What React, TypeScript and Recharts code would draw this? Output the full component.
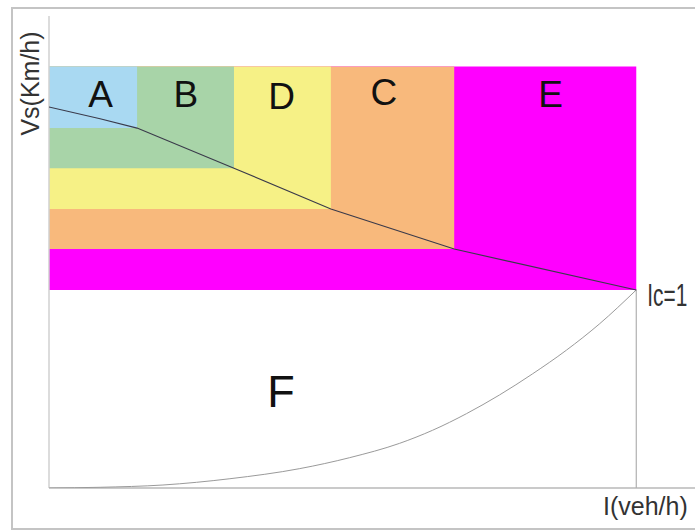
import {
  ComposedChart,
  Line,
  XAxis,
  YAxis,
  ReferenceArea,
  ReferenceLine,
  ReferenceDot,
} from 'recharts';

// level-of-service bands, drawn from the widest (E) to the smallest (A)
const bandNames = ['A', 'B', 'D', 'C', 'E'];
const bandRight = [0.15, 0.315, 0.48, 0.69, 1];
const bandBottom = [85.4, 75.9, 66.2, 56.7, 47.0];
const bandColors = ['#a9d9f2', '#a8d4a8', '#f6f186', '#f8b97c', '#ff00ff'];
const topSpeed = 100;

// speed-flow curve (upper)
const speedFlow = [0, 0.087, 0.15, 0.315, 0.48, 0.69, 1];
const speedValues = [90.4, 87.6, 85.4, 75.9, 66.2, 56.7, 47.0];

// lower curve
const lowerFlow = [0, 0.087, 0.194, 0.308, 0.427, 0.512, 0.597, 0.653, 0.711, 0.767, 0.823, 0.881, 0.937, 1];
const lowerValues = [0, 0.17, 0.71, 2.2, 4.6, 7.2, 10.6, 13.69, 17.65, 22.07, 27.05, 32.7, 38.9, 47.0];

// letter positions (flow ratio, speed)
const letterNames = ['A', 'B', 'D', 'C', 'E', 'F'];
const letterX = [0.088, 0.233, 0.396, 0.57, 0.854, 0.395];
const letterY = [93.6, 93.6, 93.0, 93.9, 93.6, 22.9];
const letterSize = [37, 37, 37, 37, 37, 45];

const capacity = 1;
const capacitySpeed = 47.0;

const FONT = '"Liberation Sans", Arial, sans-serif';

const speedData = speedFlow.map((x, i) => ({ x, y: speedValues[i] }));
const lowerData = lowerFlow.map((x, i) => ({ x, y: lowerValues[i] }));

const order = [4, 3, 2, 1, 0];

export default function App() {
  return (
    <div
      style={{
        position: 'absolute',
        left: 0,
        top: 0,
        width: 695,
        height: 530,
        overflow: 'hidden',
        background: '#fff',
      }}
    >
      <div
        style={{
          position: 'absolute',
          left: 11,
          top: 7,
          width: 700,
          height: 519,
          border: '2px solid #c4c4c4',
        }}
      />
      <div style={{ position: 'absolute', left: 0, top: 0 }}>
        <ComposedChart
          width={695}
          height={530}
          margin={{ top: 16, right: 0, bottom: 42, left: 49 }}
        >
          <XAxis
            type="number"
            dataKey="x"
            domain={[0, 1.1]}
            tick={false}
            tickLine={false}
            axisLine={false}
            height={0}
            allowDataOverflow
          />
          <YAxis
            type="number"
            domain={[0, 112]}
            tick={false}
            tickLine={false}
            axisLine={false}
            width={0}
            allowDataOverflow
          />
          {order.map((i) => (
            <ReferenceArea
              key={bandNames[i]}
              x1={0}
              x2={bandRight[i]}
              y1={bandBottom[i]}
              y2={topSpeed}
              fill={bandColors[i]}
              fillOpacity={1}
              stroke="none"
            />
          ))}
          <ReferenceLine y={0} stroke="#b8b8b8" strokeWidth={1.5} />
          <ReferenceLine x={0} stroke="#d0d0d0" strokeWidth={1.5} />
          <ReferenceLine
            segment={[
              { x: capacity, y: 0 },
              { x: capacity, y: capacitySpeed },
            ]}
            stroke="#b0b0b0"
            strokeWidth={1.2}
          />
          <Line
            data={lowerData}
            dataKey="y"
            type="monotone"
            stroke="#9a9a9a"
            strokeWidth={1}
            dot={false}
            isAnimationActive={false}
          />
          <Line
            data={speedData}
            dataKey="y"
            type="linear"
            stroke="#3a3a4a"
            strokeWidth={1.1}
            dot={false}
            isAnimationActive={false}
          />
          {letterNames.map((name, i) => (
            <ReferenceDot
              key={name}
              x={letterX[i]}
              y={letterY[i]}
              r={0}
              fill="none"
              stroke="none"
              label={{
                value: name,
                position: 'center',
                fontSize: letterSize[i],
                fill: '#111',
                fontFamily: FONT,
              }}
            />
          ))}
          <ReferenceDot
            x={capacity}
            y={capacitySpeed}
            r={0}
            fill="none"
            stroke="none"
            label={{
              content: ({ viewBox }: any) => (
                <text
                  x={viewBox.x + 11}
                  y={viewBox.y + 16}
                  fontSize={31}
                  fontFamily={FONT}
                  fill="#333"
                  textLength={40}
                  lengthAdjust="spacingAndGlyphs"
                >
                  Ic=1
                </text>
              ),
            }}
          />
          <text
            x={39}
            y={83.5}
            transform="rotate(-90 39 83.5)"
            textAnchor="middle"
            fontSize={25}
            fontFamily={FONT}
            fill="#333"
          >
            Vs(Km/h)
          </text>
          <text
            x={603}
            y={515}
            fontSize={25}
            fontFamily={FONT}
            fill="#333"
          >
            I(veh/h)
          </text>
        </ComposedChart>
      </div>
    </div>
  );
}
